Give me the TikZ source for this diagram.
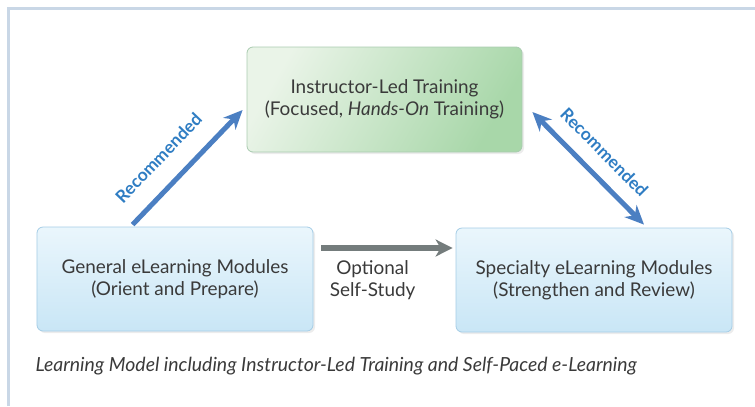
\documentclass[tikz,border=0pt]{standalone}
\usepackage{fontspec}
\setmainfont{Lato}
\usetikzlibrary{arrows.meta, calc, shadows}

\definecolor{arrowblue}{HTML}{4B7FC2}
\definecolor{labelblue}{HTML}{2F7DC3}
\definecolor{arrowgray}{HTML}{747C7C}
\definecolor{textgray}{HTML}{3A3A3A}
\definecolor{frameblue}{HTML}{C9D7E6}
\definecolor{greenlight}{HTML}{EAF4E8}
\definecolor{greendark}{HTML}{A8D7A9}
\definecolor{greenedge}{HTML}{A9CBB0}
\definecolor{bluelight}{HTML}{EAF6FC}
\definecolor{bluedark}{HTML}{C9E6F6}
\definecolor{blueedge}{HTML}{A5CDE6}

\begin{document}
\begin{tikzpicture}[x=1bp, y=-1bp, font=\fontsize{19}{22}\selectfont,
    greenbox/.style={draw=greenedge, line width=0.8bp, rounded corners=6bp,
      left color=greenlight, right color=greendark, shading angle=60,
      minimum width=275bp, minimum height=105bp, align=center, text=textgray,
      drop shadow={opacity=0.15, shadow xshift=2bp, shadow yshift=-2bp}},
    bluebox/.style={draw=blueedge, line width=0.8bp, rounded corners=6bp,
      top color=bluelight, bottom color=bluedark,
      minimum width=276bp, minimum height=104bp, align=center, text=textgray,
      drop shadow={opacity=0.15, shadow xshift=2bp, shadow yshift=-2bp}},
    recarrow/.style={arrowblue, line width=5bp},
    reclabel/.style={text=labelblue, font=\fontsize{17.5}{20}\selectfont\bfseries}]
    \useasboundingbox (0,0) rectangle (755,406);
    \draw[frameblue, line width=3bp] (8,406) -- (8,8.5) -- (755,8.5);

    \node[greenbox] (ilt) at (384.5,99.5) {Instructor-Led Training\\(Focused, \textit{Hands-On} Training)};
    \node[bluebox] (gen) at (175,279) {General eLearning Modules\\(Orient and Prepare)};
    \node[bluebox] (spec) at (594,280) {Specialty eLearning Modules\\(Strengthen and Review)};

    \draw[recarrow, -{Stealth[length=19bp, width=17bp, inset=6bp]}]
      ($(gen.north west)+(96,-2)$) -- node[reclabel, sloped, above=15bp, pos=0.415] {Recommended} ($(ilt.west)+(-4,10.5)$);
    \draw[recarrow, {Stealth[length=19bp, width=17bp, inset=6bp]}-{Stealth[length=19bp, width=17bp, inset=6bp]}]
      ($(ilt.east)+(10,12.5)$) -- node[reclabel, sloped, above=10.5bp] {Recommended} ($(spec.north)+(50,-3)$);
    \draw[arrowgray, line width=6bp, -{Stealth[length=17bp, width=17bp, inset=5bp]}]
      ($(gen.east)+(8,-31)$) -- node[below=6bp, pos=0.39, text=textgray, align=center] {Optional\\Self-Study} ($(spec.west)+(-3,-32)$);

    \node[anchor=west, text=textgray, font=\fontsize{19.5}{22}\selectfont\itshape] (cap) at (32,366)
      {Learning Model including Instructor-Led Training and Self-Paced e-Learning};
  \end{tikzpicture}
\end{document}
